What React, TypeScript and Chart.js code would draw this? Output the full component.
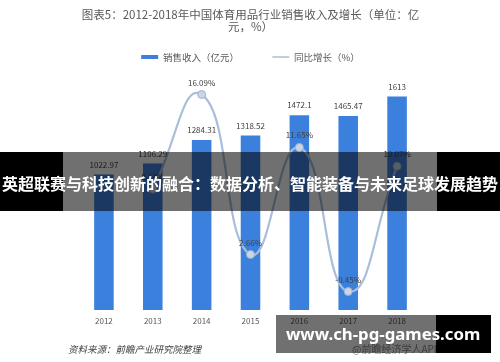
import React, { useEffect, useRef } from "react";
import { Chart, registerables } from "chart.js";

Chart.register(...registerables);

const years = ["2012", "2013", "2014", "2015", "2016", "2017", "2018"];
const revenue = [1022.97, 1106.29, 1284.31, 1318.52, 1472.1, 1465.47, 1613];
const growth: (number | null)[] = [null, 8.14, 16.09, 2.66, 11.65, -0.45, 10.07];
const titleLines = ["图表5：2012-2018年中国体育用品行业销售收入及增长（单位：亿", "元，%）"];
const seriesNames = ["销售收入（亿元）", "同比增长（%）"];
const bannerText = "英超联赛与科技创新的融合：数据分析、智能装备与未来足球发展趋势";
const siteText = "www.ch-pg-games.com";
const sourceText = "资料来源：前瞻产业研究院整理";
const watermarkText = "@前瞻经济学人APP";

const FONT = '"Noto Sans CJK SC", "Noto Sans", sans-serif';
const BAR_COLOR = "#3b80dc";
const LINE_COLOR = "#a9bedb";

const labelPlugin = {
  id: "valueLabels",
  afterDatasetsDraw(chart: any) {
    const ctx = chart.ctx;
    ctx.save();
    ctx.font = `8px ${FONT}`;
    ctx.fillStyle = "#404040";
    ctx.textAlign = "center";
    ctx.textBaseline = "middle";
    chart.data.datasets.forEach((ds: any, i: number) => {
      const meta = chart.getDatasetMeta(i);
      meta.data.forEach((el: any, j: number) => {
        const v = ds.data[j];
        if (v == null) return;
        const text = i === 0 ? String(v) : v.toFixed(2) + "%";
        ctx.fillText(text, el.x, el.y - (i === 0 ? 10 : 12));
      });
    });
    ctx.restore();
  },
};

export default function App() {
  const ref = useRef<HTMLCanvasElement>(null);
  useEffect(() => {
    if (!ref.current) return;
    const chart = new Chart(ref.current, {
      data: {
        labels: years,
        datasets: [
          {
            type: "bar",
            label: seriesNames[0],
            data: revenue,
            backgroundColor: BAR_COLOR,
            yAxisID: "y",
            barPercentage: 0.8,
            categoryPercentage: 0.5,
            order: 2,
          },
          {
            type: "line",
            label: seriesNames[1],
            data: growth,
            yAxisID: "y1",
            borderColor: LINE_COLOR,
            backgroundColor: LINE_COLOR,
            borderWidth: 2.2,
            tension: 0.5,
            pointRadius: 4,
            pointBackgroundColor: "#cad6e6",
            pointBorderColor: "#9cb1cf",
            pointBorderWidth: 1,
            order: 1,
          },
        ] as any,
      },
      options: {
        animation: false,
        responsive: false,
        devicePixelRatio: 1,
        layout: { padding: { left: 79.5, right: 78.5, top: 0, bottom: 30.4 } },
        plugins: {
          tooltip: { enabled: false },
          title: {
            display: true,
            text: titleLines,
            color: "#595959",
            font: { family: FONT, size: 11.5, weight: "normal", lineHeight: 12 / 11.5 },
            padding: { top: 9, bottom: 9.25 },
          },
          legend: {
            display: true,
            labels: {
              usePointStyle: true,
              pointStyleWidth: 17,
              boxHeight: 4,
              padding: 10,
              color: "#595959",
              font: { family: FONT, size: 9.5 },
              generateLabels: (chart: any) => {
                const items = Chart.defaults.plugins.legend.labels.generateLabels(chart);
                return items
                  .slice()
                  .sort((a: any, b: any) => a.datasetIndex - b.datasetIndex)
                  .map((it: any) => {
                    if (it.datasetIndex === 0) {
                      return { ...it, pointStyle: "rect", fillStyle: BAR_COLOR, lineWidth: 0, text: it.text + "           " };
                    }
                    return { ...it, pointStyle: "line", strokeStyle: LINE_COLOR, fillStyle: LINE_COLOR, lineWidth: 1.5 };
                  });
              },
            },
          },
        },
        scales: {
          x: {
            offset: true,
            grid: { display: false, drawTicks: false },
            border: { display: false },
            ticks: { color: "#595959", font: { family: FONT, size: 8 }, padding: 6 },
          },
          y: { display: false, min: 0, max: 1800 },
          y1: { display: false, min: -2, max: 18 },
        },
      },
      plugins: [labelPlugin],
    } as any);
    return () => chart.destroy();
  }, []);

  return (
    <div style={{ position: "fixed", left: 0, top: 0, width: 500, height: 362, background: "#fff", overflow: "hidden", fontFamily: FONT }}>
      <canvas ref={ref} width={500} height={362} style={{ display: "block", position: "absolute", left: 0, top: 0 }} />
      <div style={{ position: "absolute", left: 68, top: 341, fontSize: 9.5, fontStyle: "italic", color: "#404040", whiteSpace: "nowrap", lineHeight: "16px" }}>
        {sourceText}
      </div>
      <div style={{ position: "absolute", left: 352, top: 342, fontSize: 10, color: "#8a8a8a", whiteSpace: "nowrap", lineHeight: "14px" }}>
        {watermarkText}
      </div>
      {/* top banner */}
      <div style={{ position: "absolute", left: 0, top: 152, width: 63, height: 59, background: "#000" }} />
      <div style={{ position: "absolute", left: 63, top: 152, width: 374, height: 59, background: "rgba(0,0,0,0.56)" }} />
      <div style={{ position: "absolute", left: 437, top: 152, width: 63, height: 59, background: "#000" }} />
      <div style={{ position: "absolute", left: 0, top: 154, width: 500, height: 59, lineHeight: "59px", textAlign: "center", color: "#fff", fontWeight: 700, fontSize: 16, whiteSpace: "nowrap" }}>
        {bannerText}
      </div>
      {/* bottom banner */}
      <div style={{ position: "absolute", left: 276, top: 315, width: 160, height: 38, background: "rgba(0,0,0,0.56)" }} />
      <div style={{ position: "absolute", left: 436, top: 315, width: 55, height: 38, background: "#000" }} />
      <div style={{ position: "absolute", left: 286, top: 315, height: 38, lineHeight: "38px", color: "#fff", fontWeight: 700, fontSize: 16.8, whiteSpace: "nowrap", fontFamily: '"Noto Sans", sans-serif' }}>
        {siteText}
      </div>
    </div>
  );
}
